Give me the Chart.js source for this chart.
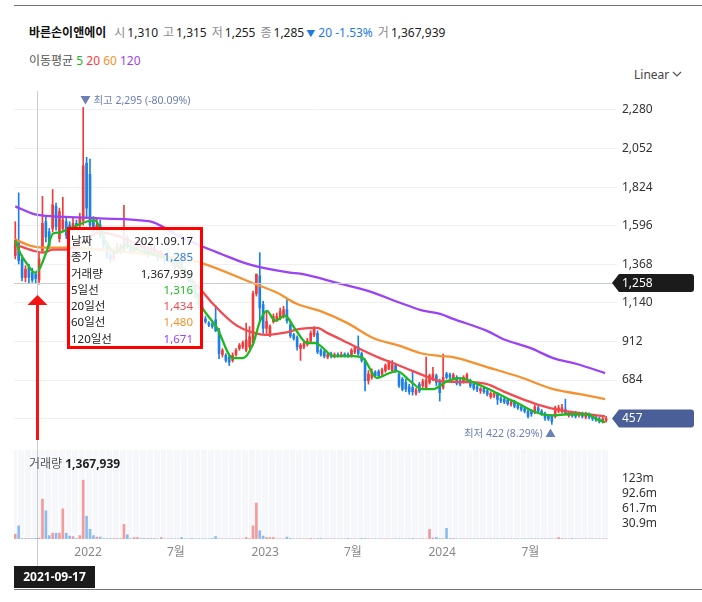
<!DOCTYPE html>
<html><head><meta charset="utf-8">
<script src="https://cdn.jsdelivr.net/npm/chart.js@4.4.1/dist/chart.umd.min.js"></script>
<style>
body{margin:0;width:702px;height:602px;background:#fff;font-family:"Noto Sans","Noto Sans CJK KR",sans-serif;overflow:hidden;position:relative;color:#222}
#c{position:absolute;left:0;top:0}
.abs{position:absolute;white-space:nowrap}
.g{color:#8a8a8a;margin-left:5px;margin-right:2px}
#tip{position:absolute;left:67px;top:227px;width:130px;height:116px;border:3px solid #ff0000;background:rgba(255,255,255,0.88);font-size:11.5px;box-sizing:content-box}
#tip .r{display:flex;justify-content:space-between;height:16.3px;line-height:16.3px;padding:0 7px 0 1px}
</style></head><body>
<div class="abs" style="left:14px;top:5px;width:688px;height:1px;background:#70757c"></div>
<div class="abs" style="left:29px;top:24px;font-size:12px;line-height:18px">
<b style="color:#111">바른손이앤에이</b><span class="g" style="margin-left:8px">시</span>1,310<span class="g">고</span>1,315<span class="g">저</span>1,255<span class="g">종</span>1,285<span style="color:#1f7ae0;margin-left:2px"><span style="font-size:9px">▼</span> 20 -1.53%</span><span class="g">거</span>1,367,939
</div>
<div class="abs" style="left:29px;top:52px;font-size:12px;line-height:18px;color:#555">이동평균 <span style="color:#22b422">5</span> <span style="color:#ff3b3b">20</span> <span style="color:#f5922f">60</span> <span style="color:#9b42f5">120</span></div>
<div class="abs" style="left:634px;top:66px;font-size:12px;line-height:18px;color:#444">Linear</div>
<svg class="abs" style="left:672px;top:71px" width="10" height="7"><polyline points="1,1 5,5 9,1" fill="none" stroke="#555" stroke-width="1.2"/></svg>
<canvas id="c" width="702" height="602"></canvas>
<div class="abs" style="left:29px;top:455px;font-size:12px;line-height:18px;color:#555">거래량 <b style="color:#222">1,367,939</b></div>
<div id="tip">
<div style="height:3px"></div>
<div class="r"><span>날짜</span><span>2021.09.17</span></div>
<div class="r"><span>종가</span><span style="color:#2a7de1">1,285</span></div>
<div class="r"><span>거래량</span><span>1,367,939</span></div>
<div class="r"><span>5일선</span><span style="color:#1eb91e">1,316</span></div>
<div class="r"><span>20일선</span><span style="color:#f34a4f">1,434</span></div>
<div class="r"><span>60일선</span><span style="color:#f5922f">1,480</span></div>
<div class="r"><span>120일선</span><span style="color:#9b42f5">1,671</span></div>
</div>
<div class="abs" style="left:14px;top:589px;width:688px;height:1px;background:#70757c"></div>
<script>
// ---- data (weekly candles, first candle centred on firstWeek) ----
const firstWeek = '2021-08-04';
const openP  = [1420,1509,1400,1290,1350,1320,1310,1275,1450,1620,1560,1580,1710,1520,1580,1620,1600,1590,1610,1600,1627,1965,1900,1620,1580,1600,1540,1480,1420,1400,1440,1470,1450,1520,1480,1450,1470,1500,1480,1450,1430,1460,1440,1410,1420,1390,1400,1380,1360,1380,1340,1310,1280,1240,1190,1153,1045,1020,1015,1040,975,835,830,820,800,835,870,880,860,880,905,1195,1300,1130,990,950,1030,1040,1050,1060,1100,1010,950,935,870,880,895,915,950,960,860,850,820,840,825,835,825,838,835,830,850,880,840,800,680,700,730,735,720,740,750,740,770,720,690,670,645,640,605,660,650,640,670,690,710,680,640,720,715,695,700,680,675,690,680,660,645,620,635,620,585,590,600,575,570,565,540,555,535,525,515,500,500,495,520,500,485,470,470,470,500,500,510,475,490,490,475,485,465,480,470,465,455,440,445];
const highP  = [1620,1790,1420,1360,1370,1345,1315,1440,1770,1650,1580,1810,1730,1700,1764,1640,1620,1640,1630,1670,2295,2000,1990,1650,1640,1630,1560,1500,1440,1460,1490,1490,1716,1540,1500,1490,1520,1520,1490,1470,1480,1480,1450,1450,1430,1420,1410,1400,1400,1390,1350,1320,1290,1250,1200,1160,1060,1030,1025,1123,990,870,840,830,845,870,900,915,1020,1000,1210,1310,1437,1150,1090,1010,1075,1080,1110,1120,1160,1040,960,945,900,915,930,975,1000,975,870,860,845,850,845,845,850,845,845,870,885,945,850,810,740,750,740,745,755,780,800,800,780,730,700,690,660,740,635,670,690,820,720,760,720,690,838,730,725,725,710,690,710,725,690,670,655,640,645,630,615,612,610,585,580,575,565,565,545,535,525,510,510,535,530,510,495,480,480,530,535,540,571,500,500,500,495,495,495,490,480,475,465,465,470];
const lowP   = [1400,1370,1270,1265,1260,1262,1255,1250,1440,1500,1460,1560,1570,1500,1560,1520,1570,1570,1580,1590,1600,1640,1580,1560,1550,1520,1460,1400,1380,1390,1430,1430,1440,1460,1430,1440,1460,1460,1430,1410,1420,1420,1390,1400,1370,1380,1360,1340,1350,1320,1290,1260,1220,1170,1110,1080,1020,1000,990,970,810,820,790,770,790,825,860,870,850,870,890,1180,1030,960,960,940,1020,1030,1040,1050,1020,935,920,860,800,870,885,905,940,840,825,815,810,815,815,820,820,820,818,820,840,830,790,620,660,690,700,700,710,730,745,735,730,640,620,615,600,595,595,610,640,630,660,680,650,560,630,690,690,690,655,650,665,680,640,625,615,605,605,590,575,580,540,550,545,535,530,520,510,500,490,460,470,485,490,475,445,445,422,460,490,490,480,465,465,460,465,460,455,455,445,440,430,430,435];
const closeP = [1509,1390,1290,1340,1290,1275,1285,1400,1610,1530,1480,1720,1590,1680,1630,1540,1580,1610,1600,1640,1950,1700,1600,1575,1600,1540,1480,1420,1400,1440,1470,1450,1520,1480,1450,1470,1500,1480,1450,1430,1460,1440,1410,1420,1390,1400,1380,1360,1380,1340,1310,1280,1240,1190,1130,1093,1030,1010,1000,975,840,860,800,790,830,860,890,905,920,940,1195,1310,1110,990,1030,1000,1060,1060,1090,1100,1035,945,930,880,890,900,915,960,985,850,835,825,835,825,835,828,835,830,828,860,875,840,800,680,720,735,710,710,745,770,790,775,740,650,630,630,615,615,625,620,675,685,710,720,670,610,700,700,700,715,665,660,700,715,650,635,630,632,615,600,605,605,570,560,555,545,555,530,520,510,500,470,485,525,500,485,460,455,440,520,520,520,490,490,475,470,485,470,485,465,455,450,440,455,457];
const volumeM = [10,27,1,1,1,1,1.37,2,82,58,7,12,12,12,62,12,6,5,1,7,121,47,20,7,4,4,1,1,1,1,1,1,30,9,1,3,3,1,1,1,1,1,0.4,3,0.4,0.4,0.4,0.4,0.4,3,0.4,0.4,1,0.4,0.4,0.4,0.4,0.4,1,5,0.4,0.4,0.4,0.4,0.4,0.4,0.4,0.4,3,1,27,74,17,6,3,3,3,0.4,0.4,0.4,4,1,0.4,0.4,0.4,0.4,0.4,1,0.4,1,1,0.4,0.4,0.4,0.4,0.4,0.4,0.4,1,0.4,0.4,0.4,1,1,0.4,0.4,0.4,0.4,0.4,0.4,0.4,0.4,0.4,0.4,0.4,0.4,0.4,1,0.4,0.4,0.4,0.4,20,2,3,1,1,22,1,1,0.4,0.4,0.4,0.4,0.4,0.4,0.4,0.4,0.4,0.4,0.4,0.4,0.4,0.4,0.4,0.4,0.4,0.4,0.4,0.4,0.4,0.4,0.4,0.4,0.4,0.4,0.4,0.4,0.4,0.4,3,1,0.4,0.4,1,0.4,0.4,0.4,0.4,0.4,0.4,0.4,0.4,0.4,0.4,0.4,0.4];
// moving averages: [week position, price]
const ma5 = [[0,1509],[1.4,1437],[3.4,1372],[5.8,1319],[7.3,1348],[9.3,1449],[11.1,1550],[13.2,1556],[14.6,1568],[17.6,1592],[21.1,1621],[23.5,1627],[26.4,1509],[29.4,1437],[32.3,1479],[36.7,1449],[42.6,1414],[48.5,1360],[52.3,1242],[54.4,1135],[59.4,992],[64.1,814],[67.1,814],[70.0,897],[72.1,1034],[74.1,1093],[76.5,1034],[79.4,1064],[82.4,986],[85.9,903],[88.3,903],[90.6,874],[93.6,826],[99.5,826],[102.4,814],[106.5,696],[109.5,720],[112.4,737],[116.3,678],[119.8,630],[123.0,630],[127.2,678],[131.0,696],[133.9,678],[138.9,636],[144.8,577],[148.6,541],[152.5,500],[155.3,482],[158.4,476],[162.5,482],[168.4,482],[171.4,452],[173.7,435]];
const ma20 = [[0,1485],[5.2,1449],[8.2,1437],[11.1,1455],[15.2,1455],[20.5,1509],[24.9,1556],[30.8,1532],[36.7,1479],[42.6,1437],[48.5,1343],[54.4,1224],[58.2,1135],[64.1,1022],[67.1,986],[74.1,951],[78.9,963],[83.9,986],[88.9,992],[91.8,963],[95.6,927],[101.5,868],[107.4,814],[111.2,785],[117.1,737],[123.0,690],[125.1,678],[133.9,672],[138.9,660],[143.6,619],[148.6,577],[153.6,541],[160.4,506],[166.3,488],[173.7,470]];
const ma60 = [[0,1515],[4.3,1479],[8.2,1467],[16.1,1467],[27.9,1449],[39.7,1426],[48.5,1402],[54.4,1378],[69.7,1259],[77.1,1200],[82.9,1135],[89.7,1093],[97.7,1022],[105.4,933],[113.3,886],[119.2,844],[125.1,826],[128.9,820],[138.9,761],[148.6,702],[158.4,630],[166.3,601],[173.7,571]];
const ma120 = [[0,1710],[5.8,1663],[11.7,1651],[19.1,1645],[24.9,1639],[39.7,1621],[43.2,1592],[48.5,1532],[54.4,1479],[60.3,1432],[69.1,1366],[80.9,1319],[83.9,1313],[95.6,1254],[103.6,1212],[113.3,1141],[119.2,1099],[125.1,1075],[128.9,1046],[138.9,975],[143.6,927],[151.6,874],[158.4,814],[165.4,779],[173.7,725]];
const priceTicks = [456,684,912,1140,1368,1596,1824,2052,2280];
const volTicks = [123.43e6,92.57e6,61.71e6,30.86e6];
const volTickLabels = ['123m','92.6m','61.7m','30.9m'];
const xTickDates = ['2022-01-01','2022-07-01','2023-01-01','2023-07-01','2024-01-01','2024-07-01'];
const xTickLabels = ['2022','7월','2023','7월','2024','7월'];
const crossDate = '2021-09-17';
const crossPrice = 1258;

// ---- helpers ----
const DAY = 864e5;
const wk = d => (Date.parse(d) - Date.parse(firstWeek)) / (7 * DAY);
const idx = openP.map((_, i) => i);
const isUp = i => closeP[i] >= openP[i];
const RED = '#ef3b3b', BLUE = '#1e7fe6', PRED = '#f29b9b', PBLUE = '#8cbcef';
const FONT = '"Noto Sans", "Noto Sans CJK KR", sans-serif';
Chart.defaults.font.family = FONT;
const fmt = v => Math.round(v).toLocaleString('en-US');

const overlay = {
  id: 'overlay',
  beforeDatasetsDraw(chart) {
    const { ctx, chartArea: a, scales: { x, yv } } = chart;
    const top = yv.getPixelForValue(183e6), bot = yv.getPixelForValue(0);
    const right = x.getPixelForValue(openP.length - 0.3);
    ctx.save();
    ctx.fillStyle = '#f5f7fb';
    ctx.fillRect(a.left, top, right - a.left, bot - top);
    ctx.fillStyle = '#ffffff';
    for (let i = 0; i < openP.length; i += 2) {
      const px = Math.round(x.getPixelForValue(i + 0.5));
      ctx.fillRect(px, top, 1, bot - top);
    }
    ctx.restore();
  },
  afterDatasetsDraw(chart) {
    const { ctx, chartArea: a, scales: { x, y, yv } } = chart;
    ctx.save();
    // crosshair
    const cx = Math.round(x.getPixelForValue(wk(crossDate))) + 0.5;
    const cy = Math.round(y.getPixelForValue(crossPrice)) + 0.5;
    ctx.strokeStyle = '#c9ccd1'; ctx.lineWidth = 1;
    ctx.beginPath(); ctx.moveTo(cx, a.top); ctx.lineTo(cx, 566); ctx.stroke();
    ctx.beginPath(); ctx.moveTo(a.left, cy); ctx.lineTo(612, cy); ctx.stroke();
    // volume tick labels
    ctx.fillStyle = '#333'; ctx.font = '12px ' + FONT; ctx.textBaseline = 'middle'; ctx.textAlign = 'left';
    volTicks.forEach((v, i) => ctx.fillText(volTickLabels[i], a.right + 5, yv.getPixelForValue(v)));
    // max / min labels
    let hi = 0, lo = 0;
    idx.forEach(i => { if (highP[i] > highP[hi]) hi = i; if (lowP[i] < lowP[lo]) lo = i; });
    const last = closeP[closeP.length - 1];
    ctx.fillStyle = '#6d80b6'; ctx.font = '10.5px ' + FONT;
    const hx = x.getPixelForValue(hi), hy = y.getPixelForValue(highP[hi]);
    ctx.textAlign = 'left';
    ctx.fillText('▼ 최고 ' + fmt(highP[hi]) + ' (' + ((last / highP[hi] - 1) * 100).toFixed(2) + '%)', hx - 3, hy - 6);
    const lx = x.getPixelForValue(lo), ly = y.getPixelForValue(lowP[lo]);
    ctx.textAlign = 'right';
    ctx.fillText('최저 ' + fmt(lowP[lo]) + ' (' + ((last / lowP[lo] - 1) * 100).toFixed(2) + '%) ▲', lx + 4, ly + 10);
    // price badges
    const badge = (val, color) => {
      const by = y.getPixelForValue(val);
      ctx.fillStyle = color;
      ctx.beginPath();
      ctx.moveTo(612, by); ctx.lineTo(619, by - 9); ctx.lineTo(691, by - 9);
      ctx.quadraticCurveTo(694, by - 9, 694, by - 6); ctx.lineTo(694, by + 6);
      ctx.quadraticCurveTo(694, by + 9, 691, by + 9); ctx.lineTo(619, by + 9); ctx.closePath(); ctx.fill();
      ctx.fillStyle = '#fff'; ctx.font = '12px ' + FONT; ctx.textAlign = 'left'; ctx.textBaseline = 'middle';
      ctx.fillText(fmt(val), 622, by + 0.5);
    };
    badge(crossPrice, '#1b1b1b');
    badge(last, '#4a5e97');
    // red arrow
    ctx.strokeStyle = '#f41414'; ctx.fillStyle = '#f41414'; ctx.lineWidth = 3;
    ctx.beginPath(); ctx.moveTo(cx, 303); ctx.lineTo(cx, 440); ctx.stroke();
    ctx.beginPath(); ctx.moveTo(cx, 295); ctx.lineTo(cx - 10, 305); ctx.lineTo(cx + 10, 305); ctx.closePath(); ctx.fill();
    // crosshair date label
    ctx.fillStyle = '#1b1b1b'; ctx.fillRect(14, 566, 81, 22);
    ctx.fillStyle = '#fff'; ctx.font = 'bold 12px ' + FONT; ctx.textAlign = 'center'; ctx.textBaseline = 'middle';
    ctx.fillText(crossDate, 54.5, 577.5);
    ctx.restore();
  }
};

const maLine = (pts, color) => ({
  type: 'line', data: pts.map(([px, py]) => ({ x: px, y: py })), borderColor: color, borderWidth: 2.3,
  pointRadius: 0, cubicInterpolationMode: 'monotone', yAxisID: 'y', order: 0
});

new Chart(document.getElementById('c'), {
  type: 'bar',
  data: {
    datasets: [
      maLine(ma5, '#1eb91e'),
      maLine(ma20, '#f34a4f'),
      maLine(ma60, '#f5922f'),
      maLine(ma120, '#9b42f5'),
      { type: 'bar', data: idx.map(i => ({ x: i, y: [openP[i], closeP[i]] })), backgroundColor: idx.map(i => isUp(i) ? RED : BLUE),
        barThickness: 2, minBarLength: 1, grouped: false, yAxisID: 'y', order: 2 },
      { type: 'bar', data: idx.map(i => ({ x: i, y: [lowP[i], highP[i]] })), backgroundColor: idx.map(i => isUp(i) ? RED : BLUE),
        barThickness: 1, grouped: false, yAxisID: 'y', order: 3 },
      { type: 'bar', data: idx.map(i => ({ x: i, y: volumeM[i] * 1e6 })), backgroundColor: idx.map(i => isUp(i) ? PRED : PBLUE),
        barThickness: 2, grouped: false, yAxisID: 'yv', order: 4 }
    ]
  },
  options: {
    responsive: false, maintainAspectRatio: false, animation: false,
    layout: { padding: { left: 14, top: 91, right: 0, bottom: 33 } },
    plugins: { legend: { display: false }, tooltip: { enabled: false } },
    scales: {
      x: {
        type: 'linear', min: -0.38, max: 177.2, offset: false,
        grid: { display: false, drawTicks: false, offset: false }, border: { display: false },
        afterBuildTicks: s => { s.ticks = xTickDates.map(d => ({ value: wk(d) })); },
        ticks: { callback: (v, i) => xTickLabels[i], color: '#888', font: { size: 12 }, padding: 6, maxRotation: 0, autoSkip: false },
        afterFit: s => { s.height = 30; }
      },
      y: {
        position: 'right', min: -255, max: 2392,
        afterBuildTicks: s => { s.ticks = priceTicks.map(v => ({ value: v })); },
        grid: { color: '#eef0f4', drawTicks: false }, border: { display: false },
        ticks: { padding: 5, color: '#333', font: { size: 12 }, callback: v => fmt(v) },
        afterFit: s => { s.width = 85; }
      },
      yv: { position: 'right', display: false, min: 0, max: 921.6e6 }
    }
  },
  plugins: [overlay]
});
</script>
</body></html>
